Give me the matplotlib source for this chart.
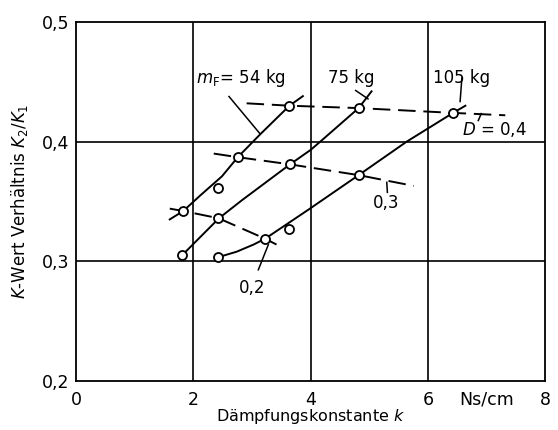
import matplotlib.pyplot as plt

# curves m_F
k_54 = [1.60, 1.83, 2.12, 2.49, 2.76, 3.14, 3.64, 3.87]
r_54 = [0.335, 0.342, 0.355, 0.371, 0.387, 0.406, 0.430, 0.438]
k_75 = [1.81, 2.44, 2.83, 3.65, 4.00, 4.19, 4.82, 5.04]
r_75 = [0.305, 0.336, 0.351, 0.381, 0.393, 0.401, 0.428, 0.442]
k_105 = [2.43, 2.74, 3.03, 3.23, 3.96, 4.82, 5.64, 6.43, 6.64]
r_105 = [0.3035, 0.308, 0.314, 0.319, 0.343, 0.372, 0.400, 0.424, 0.430]

# measured points (circles)
pk_54 = [1.83, 2.43, 2.76, 3.64]
pr_54 = [0.342, 0.361, 0.387, 0.430]
pk_75 = [1.81, 2.43, 3.65, 4.82]
pr_75 = [0.305, 0.336, 0.381, 0.428]
pk_105 = [2.43, 3.22, 3.63, 4.82, 6.43]
pr_105 = [0.304, 0.319, 0.327, 0.372, 0.424]

# lines of constant D
dk_04 = [2.91, 3.64, 4.82, 6.43, 7.32]
dr_04 = [0.432, 0.430, 0.428, 0.424, 0.422]
dk_03 = [2.35, 2.76, 3.65, 4.82, 5.76]
dr_03 = [0.390, 0.387, 0.381, 0.372, 0.363]
dk_02 = [1.60, 1.83, 2.43, 3.22, 3.42]
dr_02 = [0.344, 0.342, 0.336, 0.319, 0.314]

xticks = [0, 2, 4, 6, 7, 8]
xlabels = ['0', '2', '4', '6', 'Ns/cm', '8']
yticks = [0.2, 0.3, 0.4, 0.5]
ylabels = ['0,2', '0,3', '0,4', '0,5']

plt.rcParams['font.family'] = ['DejaVu Sans']
fig = plt.figure(figsize=(5.58, 4.30), dpi=100)
ax = fig.add_axes([0.136, 0.114, 0.841, 0.835])

lw = 1.4
for k, r in [(k_54, r_54), (k_75, r_75), (k_105, r_105)]:
    ax.plot(k, r, color='black', lw=lw, zorder=3)
for k, r in [(dk_04, dr_04), (dk_03, dr_03), (dk_02, dr_02)]:
    ax.plot(k, r, color='black', lw=lw, dashes=(9, 4), zorder=3)
for k, r in [(pk_54, pr_54), (pk_75, pr_75), (pk_105, pr_105)]:
    ax.plot(k, r, 'o', ms=6.5, mfc='white', mec='black', mew=1.3, zorder=4)

# leader lines
leaders = [([2.61, 3.14], [0.4377, 0.4065]),
           ([4.77, 4.98], [0.4427, 0.4357]),
           ([6.58, 6.55], [0.4531, 0.4335]),
           ([6.91, 6.86], [0.4234, 0.4176]),
           ([5.30, 5.31], [0.366, 0.3576]),
           ([3.28, 3.11], [0.3138, 0.2929])]
for lx, ly in leaders:
    ax.plot(lx, ly, color='black', lw=1.1, zorder=3)

fs = 12
ax.text(2.82, 0.453, '$m_\\mathrm{F}$= 54 kg', fontsize=fs, ha='center', va='center')
ax.text(4.69, 0.453, '75 kg', fontsize=fs, ha='center', va='center')
ax.text(6.57, 0.453, '105 kg', fontsize=fs, ha='center', va='center')
ax.text(7.14, 0.410, '$D$ = 0,4', fontsize=fs, ha='center', va='center')
ax.text(5.29, 0.349, '0,3', fontsize=fs, ha='center', va='center')
ax.text(3.00, 0.278, '0,2', fontsize=fs, ha='center', va='center')

ax.set_xlim(0, 8)
ax.set_ylim(0.2, 0.5)
ax.set_xticks(xticks)
ax.set_xticklabels(xlabels, fontsize=12.5)
ax.set_yticks(yticks)
ax.set_yticklabels(ylabels, fontsize=12.5)
ax.tick_params(length=0)
ax.tick_params(axis='x', pad=7)
ax.tick_params(axis='y', pad=5)

for x in [2, 4, 6]:
    ax.axvline(x, color='black', lw=1.2, zorder=1)
for y in [0.3, 0.4]:
    ax.axhline(y, color='black', lw=1.2, zorder=1)
for s in ax.spines.values():
    s.set_linewidth(1.3)

ax.set_xlabel('Dämpfungskonstante $k$', fontsize=11.5, labelpad=-1)
ax.set_ylabel('$K$-Wert Verhältnis $K_2/K_1$', fontsize=12, labelpad=8)

fig.savefig('out.png', dpi=100)
